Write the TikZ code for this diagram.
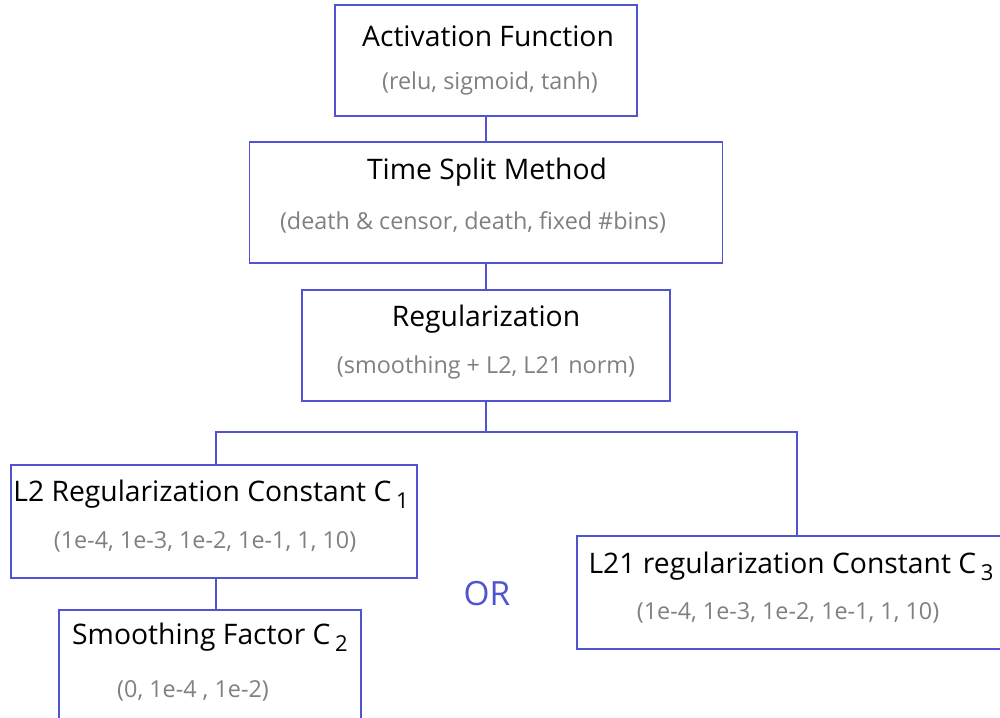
\documentclass[tikz,border=0pt]{standalone}
\usepackage{fontspec}
\setmainfont{Open Sans}
\definecolor{boxblue}{RGB}{80,84,208}
\definecolor{subgray}{RGB}{128,128,128}
\newcommand{\sub}[1]{\,\raisebox{-0.45ex}{\fontsize{12.5}{14}\selectfont #1}}
\tikzset{
  box/.style={draw=boxblue, line width=1.1pt, fill=white},
  ttl/.style={font=\fontsize{16.1}{18}\selectfont, text=black, inner sep=0pt},
  stl/.style={font=\fontsize{13.3}{15}\selectfont, text=subgray, inner sep=0pt},
  conn/.style={draw=boxblue, line width=1.1pt},
}
\begin{document}
\begin{tikzpicture}[x=0.02cm,y=-0.02cm]
\useasboundingbox (0,0) rectangle (1000,717);
\clip (0,0) rectangle (1000,717);
% boxes
\node[box, minimum width=302*0.02cm, minimum height=111*0.02cm] (A) at (486,60.5) {};
\node[box, minimum width=473*0.02cm, minimum height=121*0.02cm] (B) at (486,202.5) {};
\node[box, minimum width=368*0.02cm, minimum height=111*0.02cm] (C) at (486,345.5) {};
\node[box, minimum width=406*0.02cm, minimum height=113*0.02cm] (D) at (214,521.5) {};
\node[box, minimum width=302*0.02cm, minimum height=130*0.02cm] (F) at (210,675) {};
\node[box, minimum width=440*0.02cm, minimum height=113*0.02cm] (E) at (797,592.5) {};
\coordinate (J) at (486,432);
% connectors
\draw[conn] (A.south) -- (B.north);
\draw[conn] (B.south) -- (C.north);
\draw[conn] (C.south) -- (J);
\draw[conn] (J) -| ([xshift=2*0.02cm]D.north);
\draw[conn] (J) -| (E.north);
\draw[conn] ([xshift=2*0.02cm]D.south) -- ([xshift=2*0.02cm]D.south |- F.north);
% texts
\node[ttl] (At) at (488,36) {Activation Function};
\node[stl] (As) at (490,83) {(relu, sigmoid, tanh)};
\node[ttl] (Bt) at (487,172) {Time Split Method};
\node[stl] (Bs) at (473,222) {(death \& censor, death, fixed \#bins)};
\node[ttl] (Ct) at (486,319) {Regularization};
\node[stl] (Cs) at (486,367) {(smoothing + L2, L21 norm)};
\node[ttl] (Dt) at (211,494) {L2 Regularization Constant C\sub{1}};
\node[stl] (Ds) at (205,542) {(1e-4, 1e-3, 1e-2, 1e-1, 1, 10)};
\node[ttl] (Ft) at (210,637) {Smoothing Factor C\sub{2}};
\node[stl] (Fs) at (193,691) {(0, 1e-4 , 1e-2)};
\node[ttl] (Et) at (791,566) {L21 regularization Constant C\sub{3}};
\node[stl] (Es) at (788,613) {(1e-4, 1e-3, 1e-2, 1e-1, 1, 10)};
\node[font=\fontsize{19}{22}\selectfont, text=boxblue, inner sep=0pt] (OR) at (487,594) {OR};
\end{tikzpicture}
\end{document}
